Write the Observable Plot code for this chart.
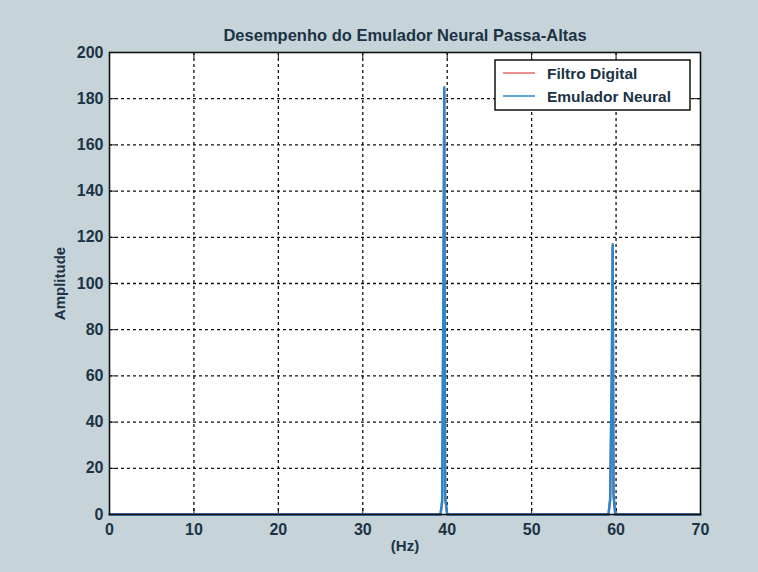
<!DOCTYPE html>
<html>
<head>
<meta charset="utf-8">
<script src="https://cdn.jsdelivr.net/npm/d3@7"></script>
<script src="https://cdn.jsdelivr.net/npm/@observablehq/plot@0.6"></script>
<style>
  html, body { margin: 0; padding: 0; background: #c6d3d9; }
  #chart { width: 758px; height: 572px; }
</style>
</head>
<body>
<div id="chart"></div>
<script>
// Spectrum of the high-pass output: digital filter vs. neural emulator
const freq     = [0, 39.2, 39.4, 39.55, 39.65, 39.75, 40.0, 59.1, 59.3, 59.5, 59.6, 59.7, 59.9, 70];
const filtro   = [0, 0,    5,    96,    184,   7,     0,    0,    6,    63,   116,  8,    0,    0];
const emulador = [0, 0,    6,    97,    185,   8,     0,    0,    7,    64,   117,  9,    0,    0];

const xTicks = [0, 10, 20, 30, 40, 50, 60, 70];
const yTicks = [0, 20, 40, 60, 80, 100, 120, 140, 160, 180, 200];

const seriesNames = ["Filtro Digital", "Emulador Neural"];
const title = "Desempenho do Emulador Neural Passa-Altas";
const xLabel = "(Hz)";
const yLabel = "Amplitude";

const rows = freq.map((f, i) => ({freq: f, filtro: filtro[i], emulador: emulador[i]}));

const W = 758, H = 572;
const M = {top: 52, right: 58, bottom: 58, left: 109};
const plotW = W - M.left - M.right;
const plotH = H - M.top - M.bottom;

const red = "#e06a6a";
const blue = "#2688cf";
const ink = "#1b3344";
const font = "'Liberation Sans', Arial, Helvetica, sans-serif";

const inner = v => v.slice(1, -1);

// Legend box drawn in the upper-right corner of the frame
function legend(index, scales, values, dims) {
  const g = d3.create("svg:g");
  const x0 = dims.width - dims.marginRight - 205;
  const y0 = dims.marginTop + 8;
  g.append("rect")
    .attr("x", x0).attr("y", y0).attr("width", 195).attr("height", 50)
    .attr("fill", "white").attr("stroke", "#111").attr("stroke-width", 1.5);
  const colors = [red, blue];
  seriesNames.forEach((name, i) => {
    const yy = y0 + 13 + i * 23;
    g.append("line")
      .attr("x1", x0 + 8).attr("x2", x0 + 40).attr("y1", yy).attr("y2", yy)
      .attr("stroke", colors[i]).attr("stroke-width", 1.5);
    g.append("text")
      .attr("x", x0 + 52).attr("y", yy).attr("dy", "0.36em")
      .attr("text-anchor", "start")
      .attr("fill", ink).attr("font-family", font).attr("font-size", 15.5)
      .attr("font-weight", "bold")
      .text(name);
  });
  return g.node();
}

const chart = Plot.plot({
  width: W, height: H,
  marginTop: M.top, marginRight: M.right, marginBottom: M.bottom, marginLeft: M.left,
  style: {background: "#c6d3d9", color: ink, fontFamily: font, fontSize: "16px", fontWeight: "bold"},
  x: {domain: [0, 70], ticks: xTicks},
  y: {domain: [0, 200], ticks: yTicks},
  marks: [
    Plot.frame({fill: "white", stroke: null}),
    Plot.gridX(inner(xTicks), {stroke: "#111", strokeOpacity: 1, strokeWidth: 1.3, strokeDasharray: "3,3"}),
    Plot.gridY(inner(yTicks), {stroke: "#111", strokeOpacity: 1, strokeWidth: 1.3, strokeDasharray: "3,3"}),
    // inward tick marks on all four sides
    Plot.ruleX(inner(xTicks), {stroke: "#111", insetTop: plotH - 6}),
    Plot.ruleX(inner(xTicks), {stroke: "#111", insetBottom: plotH - 6}),
    Plot.ruleY(inner(yTicks), {stroke: "#111", insetRight: plotW - 6}),
    Plot.ruleY(inner(yTicks), {stroke: "#111", insetLeft: plotW - 6}),
    Plot.line(rows, {x: "freq", y: "filtro", stroke: red, strokeWidth: 2.4}),
    Plot.line(rows, {x: "freq", y: "emulador", stroke: blue, strokeWidth: 2.4}),
    Plot.frame({stroke: "#111", strokeWidth: 1.6}),
    Plot.axisX(xTicks, {tickSize: 0, tickPadding: 9, label: null, fontSize: 16, fontWeight: "bold"}),
    Plot.axisY(yTicks, {tickSize: 0, tickPadding: 6, label: null, fontSize: 16, fontWeight: "bold"}),
    Plot.text([xLabel], {frameAnchor: "bottom", dy: 36, fontSize: 15, fontWeight: "bold", fill: ink}),
    Plot.text([yLabel], {frameAnchor: "left", textAnchor: "middle", dx: -49, rotate: -90, fontSize: 15, fontWeight: "bold", fill: ink}),
    Plot.text([title], {frameAnchor: "top", dy: -23, fontSize: 16.5, fontWeight: "bold", fill: ink}),
    legend
  ]
});

document.getElementById("chart").appendChild(chart);
</script>
</body>
</html>
